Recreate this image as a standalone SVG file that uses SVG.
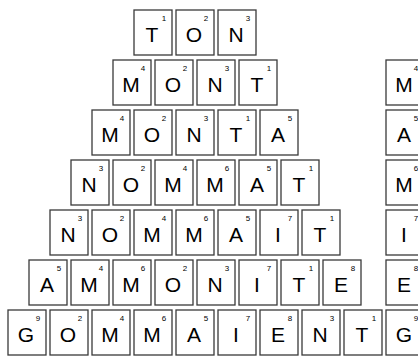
<svg xmlns="http://www.w3.org/2000/svg" width="418" height="356" viewBox="0 0 418 356">
<style>
.t rect{fill:#fff;stroke:#3a3a3a;stroke-width:1.3}
.t .l{font-family:"Liberation Sans",Arial,sans-serif;font-size:21px;fill:#000;text-anchor:middle}
.t .n{font-family:"Liberation Sans",Arial,sans-serif;font-size:8px;fill:#000;text-anchor:middle}
</style>
<rect width="418" height="356" fill="#fff"/>
<!-- Row 1 -->
<g id="r1c1" class="t"><rect x="134" y="10" width="38" height="45"/><text class="l" x="152" y="42">T</text><text class="n" x="164" y="21">1</text></g>
<g id="r1c2" class="t"><rect x="176" y="10" width="38" height="45"/><text class="l" x="194" y="42">O</text><text class="n" x="206" y="21">2</text></g>
<g id="r1c3" class="t"><rect x="218" y="10" width="38" height="45"/><text class="l" x="236" y="42">N</text><text class="n" x="248" y="21">3</text></g>
<!-- Row 2 -->
<g id="r2c1" class="t"><rect x="113" y="60" width="38" height="45"/><text class="l" x="131" y="92">M</text><text class="n" x="143" y="71">4</text></g>
<g id="r2c2" class="t"><rect x="155" y="60" width="38" height="45"/><text class="l" x="173" y="92">O</text><text class="n" x="185" y="71">2</text></g>
<g id="r2c3" class="t"><rect x="197" y="60" width="38" height="45"/><text class="l" x="215" y="92">N</text><text class="n" x="227" y="71">3</text></g>
<g id="r2c4" class="t"><rect x="239" y="60" width="38" height="45"/><text class="l" x="257" y="92">T</text><text class="n" x="269" y="71">1</text></g>
<!-- Row 3 -->
<g id="r3c1" class="t"><rect x="92" y="110" width="38" height="45"/><text class="l" x="110" y="142">M</text><text class="n" x="122" y="121">4</text></g>
<g id="r3c2" class="t"><rect x="134" y="110" width="38" height="45"/><text class="l" x="152" y="142">O</text><text class="n" x="164" y="121">2</text></g>
<g id="r3c3" class="t"><rect x="176" y="110" width="38" height="45"/><text class="l" x="194" y="142">N</text><text class="n" x="206" y="121">3</text></g>
<g id="r3c4" class="t"><rect x="218" y="110" width="38" height="45"/><text class="l" x="236" y="142">T</text><text class="n" x="248" y="121">1</text></g>
<g id="r3c5" class="t"><rect x="260" y="110" width="38" height="45"/><text class="l" x="278" y="142">A</text><text class="n" x="290" y="121">5</text></g>
<!-- Row 4 -->
<g id="r4c1" class="t"><rect x="71" y="160" width="38" height="45"/><text class="l" x="89" y="192">N</text><text class="n" x="101" y="171">3</text></g>
<g id="r4c2" class="t"><rect x="113" y="160" width="38" height="45"/><text class="l" x="131" y="192">O</text><text class="n" x="143" y="171">2</text></g>
<g id="r4c3" class="t"><rect x="155" y="160" width="38" height="45"/><text class="l" x="173" y="192">M</text><text class="n" x="185" y="171">4</text></g>
<g id="r4c4" class="t"><rect x="197" y="160" width="38" height="45"/><text class="l" x="215" y="192">M</text><text class="n" x="227" y="171">6</text></g>
<g id="r4c5" class="t"><rect x="239" y="160" width="38" height="45"/><text class="l" x="257" y="192">A</text><text class="n" x="269" y="171">5</text></g>
<g id="r4c6" class="t"><rect x="281" y="160" width="38" height="45"/><text class="l" x="299" y="192">T</text><text class="n" x="311" y="171">1</text></g>
<!-- Row 5 -->
<g id="r5c1" class="t"><rect x="50" y="210" width="38" height="45"/><text class="l" x="68" y="242">N</text><text class="n" x="80" y="221">3</text></g>
<g id="r5c2" class="t"><rect x="92" y="210" width="38" height="45"/><text class="l" x="110" y="242">O</text><text class="n" x="122" y="221">2</text></g>
<g id="r5c3" class="t"><rect x="134" y="210" width="38" height="45"/><text class="l" x="152" y="242">M</text><text class="n" x="164" y="221">4</text></g>
<g id="r5c4" class="t"><rect x="176" y="210" width="38" height="45"/><text class="l" x="194" y="242">M</text><text class="n" x="206" y="221">6</text></g>
<g id="r5c5" class="t"><rect x="218" y="210" width="38" height="45"/><text class="l" x="236" y="242">A</text><text class="n" x="248" y="221">5</text></g>
<g id="r5c6" class="t"><rect x="260" y="210" width="38" height="45"/><text class="l" x="278" y="242">I</text><text class="n" x="290" y="221">7</text></g>
<g id="r5c7" class="t"><rect x="302" y="210" width="38" height="45"/><text class="l" x="320" y="242">T</text><text class="n" x="332" y="221">1</text></g>
<!-- Row 6 -->
<g id="r6c1" class="t"><rect x="29" y="260" width="38" height="45"/><text class="l" x="47" y="292">A</text><text class="n" x="59" y="271">5</text></g>
<g id="r6c2" class="t"><rect x="71" y="260" width="38" height="45"/><text class="l" x="89" y="292">M</text><text class="n" x="101" y="271">4</text></g>
<g id="r6c3" class="t"><rect x="113" y="260" width="38" height="45"/><text class="l" x="131" y="292">M</text><text class="n" x="143" y="271">6</text></g>
<g id="r6c4" class="t"><rect x="155" y="260" width="38" height="45"/><text class="l" x="173" y="292">O</text><text class="n" x="185" y="271">2</text></g>
<g id="r6c5" class="t"><rect x="197" y="260" width="38" height="45"/><text class="l" x="215" y="292">N</text><text class="n" x="227" y="271">3</text></g>
<g id="r6c6" class="t"><rect x="239" y="260" width="38" height="45"/><text class="l" x="257" y="292">I</text><text class="n" x="269" y="271">7</text></g>
<g id="r6c7" class="t"><rect x="281" y="260" width="38" height="45"/><text class="l" x="299" y="292">T</text><text class="n" x="311" y="271">1</text></g>
<g id="r6c8" class="t"><rect x="323" y="260" width="38" height="45"/><text class="l" x="341" y="292">E</text><text class="n" x="353" y="271">8</text></g>
<!-- Row 7 -->
<g id="r7c1" class="t"><rect x="8" y="310" width="38" height="45"/><text class="l" x="26" y="342">G</text><text class="n" x="38" y="321">9</text></g>
<g id="r7c2" class="t"><rect x="50" y="310" width="38" height="45"/><text class="l" x="68" y="342">O</text><text class="n" x="80" y="321">2</text></g>
<g id="r7c3" class="t"><rect x="92" y="310" width="38" height="45"/><text class="l" x="110" y="342">M</text><text class="n" x="122" y="321">4</text></g>
<g id="r7c4" class="t"><rect x="134" y="310" width="38" height="45"/><text class="l" x="152" y="342">M</text><text class="n" x="164" y="321">6</text></g>
<g id="r7c5" class="t"><rect x="176" y="310" width="38" height="45"/><text class="l" x="194" y="342">A</text><text class="n" x="206" y="321">5</text></g>
<g id="r7c6" class="t"><rect x="218" y="310" width="38" height="45"/><text class="l" x="236" y="342">I</text><text class="n" x="248" y="321">7</text></g>
<g id="r7c7" class="t"><rect x="260" y="310" width="38" height="45"/><text class="l" x="278" y="342">E</text><text class="n" x="290" y="321">8</text></g>
<g id="r7c8" class="t"><rect x="302" y="310" width="38" height="45"/><text class="l" x="320" y="342">N</text><text class="n" x="332" y="321">3</text></g>
<g id="r7c9" class="t"><rect x="344" y="310" width="38" height="45"/><text class="l" x="362" y="342">T</text><text class="n" x="374" y="321">1</text></g>
<!-- Right column -->
<g id="k2" class="t"><rect x="386" y="60" width="38" height="45"/><text class="l" x="404" y="92">M</text><text class="n" x="416" y="71">4</text></g>
<g id="k3" class="t"><rect x="386" y="110" width="38" height="45"/><text class="l" x="404" y="142">A</text><text class="n" x="416" y="121">5</text></g>
<g id="k4" class="t"><rect x="386" y="160" width="38" height="45"/><text class="l" x="404" y="192">M</text><text class="n" x="416" y="171">6</text></g>
<g id="k5" class="t"><rect x="386" y="210" width="38" height="45"/><text class="l" x="404" y="242">I</text><text class="n" x="416" y="221">7</text></g>
<g id="k6" class="t"><rect x="386" y="260" width="38" height="45"/><text class="l" x="404" y="292">E</text><text class="n" x="416" y="271">8</text></g>
<g id="k7" class="t"><rect x="386" y="310" width="38" height="45"/><text class="l" x="404" y="342">G</text><text class="n" x="416" y="321">9</text></g>
</svg>
